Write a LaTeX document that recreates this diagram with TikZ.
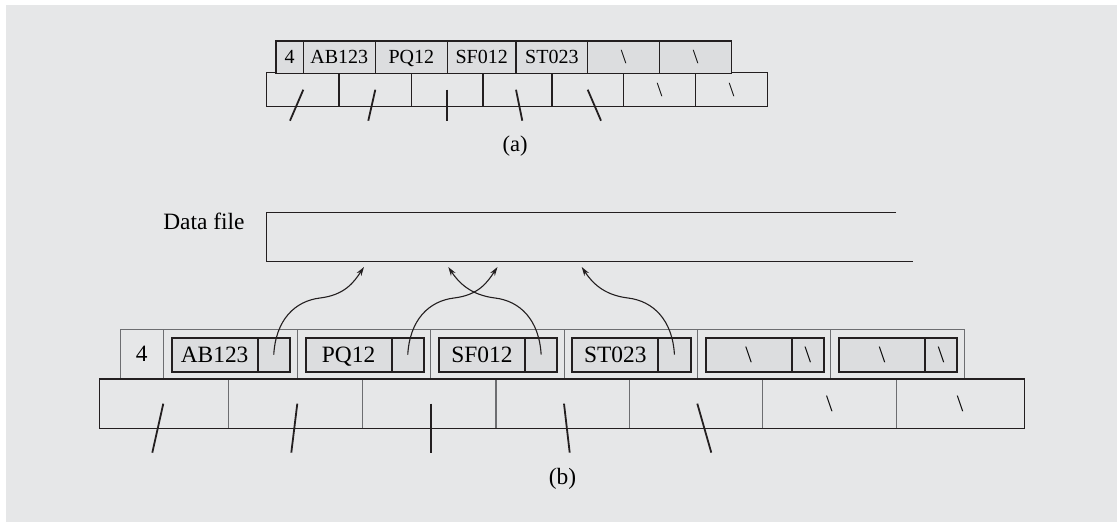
\documentclass[tikz,border=0pt]{standalone}
\usepackage{fontspec}
\setmainfont{Liberation Serif}
\usetikzlibrary{arrows.meta}
\definecolor{bg}{HTML}{E6E7E8}
\definecolor{boxfill}{HTML}{DCDDDF}
\definecolor{ink}{HTML}{231F20}
\definecolor{rule}{HTML}{6D6E71}
\newcommand{\recfont}{\fontsize{23.4}{28}\selectfont}
\newcommand{\rowfont}{\fontsize{20}{24}\selectfont}
\tikzset{
  rowcell/.style={draw=ink, line width=1.3pt, fill=boxfill, minimum height=32.3, inner sep=0pt, outer sep=0pt, text height=13.2pt, text depth=0pt, font=\rowfont},
  lowcell/.style={draw=ink, line width=1.3pt, minimum height=34, inner sep=0pt, outer sep=0pt, text height=13.2pt, text depth=0pt, font=\rowfont},
  reccell/.style={draw=rule, line width=1pt, minimum height=49, inner sep=0pt, outer sep=0pt, text height=15.5pt, text depth=0pt, font=\recfont},
  keypart/.style={draw=ink, line width=2pt, fill=boxfill, minimum height=34, minimum width=86, inner sep=0pt, outer sep=0pt, text height=15.5pt, text depth=0pt, font=\recfont},
  ptrpart/.style={keypart, minimum width=32.3},
  subcell/.style={draw=rule, line width=1pt, minimum height=49.3, minimum width=133.4, inner sep=0pt, outer sep=0pt, text height=15.5pt, text depth=0pt, font=\recfont},
  ptr/.style={ink, line width=1.8pt},
  arr/.style={ink, line width=1.1pt, -{Stealth[length=9pt,width=5.5pt]}}
}
\begin{document}
\begin{tikzpicture}[x=1pt,y=-1pt]
    \useasboundingbox (0,0) rectangle (1119,522);
    \fill[white] (0,0) rectangle (1119,522);
    \fill[bg] (6,5) rectangle (1117,522);

    % (a)
    \node[lowcell, minimum width=72.3] (c1) at (302.85,89.7) {};
    \node[lowcell, minimum width=72.3] (c2) at (375.15,89.7) {};
    \node[lowcell, minimum width=71.7] (c3) at (447.15,89.7) {};
    \node[lowcell, minimum width=69] (c4) at (517.5,89.7) {};
    \node[lowcell, minimum width=71.7] (c5) at (587.85,89.7) {};
    \node[lowcell, minimum width=72] (c6) at (659.7,89.7) {\textbackslash};
    \node[lowcell, minimum width=72] (c7) at (731.7,89.7) {\textbackslash};

    \node[rowcell, minimum width=27.3] (a0) at (289.65,57.15) {4};
    \node[rowcell, minimum width=72] (a1) at (339.3,57.15) {AB123};
    \node[rowcell, minimum width=72] (a2) at (411.3,57.15) {PQ12};
    \node[rowcell, minimum width=68.7] (a3) at (481.65,57.15) {SF012};
    \node[rowcell, minimum width=71.7] (a4) at (551.85,57.15) {ST023};
    \node[rowcell, minimum width=72] (a5) at (623.7,57.15) {\textbackslash};
    \node[rowcell, minimum width=72] (a6) at (695.7,57.15) {\textbackslash};

    \draw[ptr] (a0.south east |- c1) -- ++(-13.3,31);
    \draw[ptr] (a1.south east |- c2) -- ++(-7,31);
    \draw[ptr] (a2.south east |- c3) -- ++(0,31);
    \draw[ptr] (a3.south east |- c4) -- ++(6.3,31);
    \draw[ptr] (a4.south east |- c5) -- ++(13.3,31);

    \node[anchor=base, font=\fontsize{22.5}{27}\selectfont] (capa) at (515,151) {(a)};

    % (b)
    \node[anchor=base east, font=\recfont] (dfile) at (248,229.3) {Data file};
    \draw[ink, line width=1.3pt] (896,212.3) -- (266.7,212.3) -- (266.7,261.7) -- (913.3,261.7);

    \node[reccell, minimum width=43.3] (r0) at (141.65,353.8) {4};
    \node[reccell, minimum width=134] (r1) at (230.3,353.8) {};
    \node[reccell, minimum width=133.4] (r2) at (364,353.8) {};
    \node[reccell, minimum width=133.3] (r3) at (497.35,353.8) {};
    \node[reccell, minimum width=133.3] (r4) at (630.65,353.8) {};
    \node[reccell, minimum width=133.4] (r5) at (764,353.8) {};
    \node[reccell, minimum width=133.3] (r6) at (897.35,353.8) {};

    \node[keypart] (k1) at (214.6,354.7) {AB123};
    \node[ptrpart] (p1) at (273.75,354.7) {};
    \node[keypart] (k2) at (348.6,354.7) {PQ12};
    \node[ptrpart] (p2) at (407.75,354.7) {};
    \node[keypart] (k3) at (482,354.7) {SF012};
    \node[ptrpart] (p3) at (541.15,354.7) {};
    \node[keypart] (k4) at (615.3,354.7) {ST023};
    \node[ptrpart] (p4) at (674.45,354.7) {};
    \node[keypart] (k5) at (748.6,354.7) {\textbackslash};
    \node[ptrpart] (p5) at (807.75,354.7) {\textbackslash};
    \node[keypart] (k6) at (882,354.7) {\textbackslash};
    \node[ptrpart] (p6) at (941.15,354.7) {\textbackslash};

    \node[subcell, minimum width=129] (b1) at (163.8,403.65) {};
    \node[subcell] (b2) at (295.5,403.65) {};
    \node[subcell] (b3) at (429.35,403.65) {};
    \node[subcell] (b4) at (562.65,403.65) {};
    \node[subcell] (b5) at (696,403.65) {};
    \node[subcell] (b6) at (829.35,403.65) {\textbackslash};
    \node[subcell, minimum width=128.3] (b7) at (960.15,403.65) {\textbackslash};
    \draw[ink, line width=1.3pt] (b1.north west) rectangle (b7.south east);

    \draw[ptr] (r0.south east |- b1) -- ++(-11,49);
    \draw[ptr] (r1.south east |- b2) -- ++(-6,49);
    \draw[ptr] (r2.south east |- b3) -- ++(0,49);
    \draw[ptr] (r3.south east |- b4) -- ++(5.7,49);
    \draw[ptr] (r4.south east |- b5) -- ++(14,49);

    \coordinate (t1) at (364,267);
    \coordinate (t2) at (497.5,267);
    \coordinate (t3) at (448.3,267);
    \coordinate (t4) at (581.7,267);
    \draw[arr] (p1.center) .. controls +(2,-35) and +(-25,3) .. (320,298) .. controls +(25,-3) and +(-10,15) .. (t1);
    \draw[arr] (p2.center) .. controls +(2,-35) and +(-25,3) .. (454,298) .. controls +(25,-3) and +(-10,15) .. (t2);
    \draw[arr] (p3.center) .. controls +(-2,-35) and +(25,3) .. (495,298) .. controls +(-25,-3) and +(10,15) .. (t3);
    \draw[arr] (p4.center) .. controls +(-2,-35) and +(25,3) .. (628,298) .. controls +(-25,-3) and +(10,15) .. (t4);

    \node[anchor=base, font=\recfont] (capb) at (562.5,484.8) {(b)};
\end{tikzpicture}
\end{document}
